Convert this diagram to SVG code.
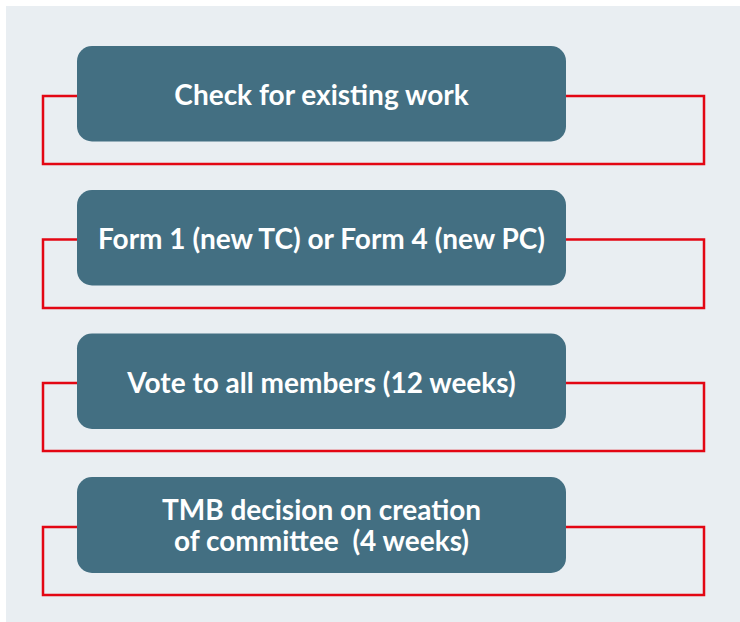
<svg xmlns="http://www.w3.org/2000/svg" width="740" height="622" viewBox="0 0 740 622">
  <style>
    .step rect { fill: #436f82; }
    .step text { fill: #ffffff; font-family: Lato, "Open Sans", sans-serif; font-weight: 700; font-size: 28px; text-anchor: middle; white-space: pre; }
    .loop { fill: none; stroke: #e30613; stroke-width: 2.5; }
  </style>
  <rect x="0" y="0" width="740" height="622" fill="#ffffff"/>
  <rect x="6" y="6" width="734" height="616" fill="#e9eef2"/>

  <!-- red feedback loops behind each step -->
  <g id="connectors">
    <rect class="loop" x="43" y="96" width="661" height="68"/>
    <rect class="loop" x="43" y="239.5" width="661" height="68.5"/>
    <rect class="loop" x="43" y="383" width="661" height="68"/>
    <rect class="loop" x="43" y="527" width="661" height="68"/>
  </g>

  <g id="step1" class="step">
    <rect x="77" y="46" width="489" height="95.5" rx="15"/>
    <text x="321.5" y="105">Check for existing work</text>
  </g>
  <g id="step2" class="step">
    <rect x="77" y="190" width="489" height="95.5" rx="15"/>
    <text x="321.5" y="249">Form 1 (new TC) or Form 4 (new PC)</text>
  </g>
  <g id="step3" class="step">
    <rect x="77" y="333.5" width="489" height="95.5" rx="15"/>
    <text x="321.5" y="393">Vote to all members (12 weeks)</text>
  </g>
  <g id="step4" class="step">
    <rect x="77" y="477" width="489" height="96" rx="15"/>
    <text x="321.5" y="519.5">TMB decision on creation</text>
    <text x="321.5" y="550.5" xml:space="preserve">of committee  (4 weeks)</text>
  </g>
</svg>
